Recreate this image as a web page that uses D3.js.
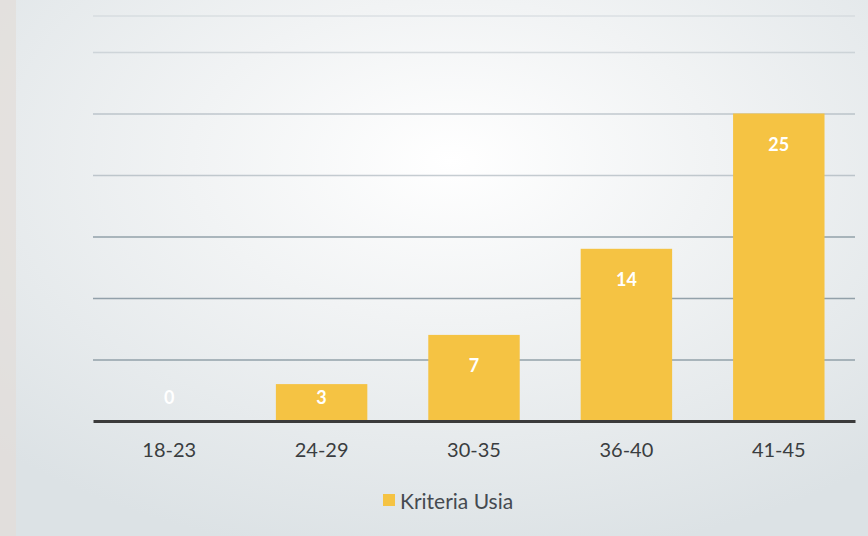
<!DOCTYPE html>
<html><head><meta charset="utf-8">
<script src="https://cdn.jsdelivr.net/npm/d3@7"></script>
<style>body{margin:0;overflow:hidden}svg{display:block}</style>
</head><body>
<script>
const categories = ["18-23", "24-29", "30-35", "36-40", "41-45"];
const values = [0, 3, 7, 14, 25];
const yTicks = [5, 10, 15, 20, 25, 30];
const seriesName = "Kriteria Usia";

const W = 868, H = 536;
const svg = d3.select("body").append("svg").attr("width", W).attr("height", H);
const defs = svg.append("defs");
const rg = defs.append("radialGradient").attr("id", "bg").attr("cx", "52%").attr("cy", "30%").attr("r", "75%");
rg.append("stop").attr("offset", "0%").attr("stop-color", "#ffffff");
rg.append("stop").attr("offset", "40%").attr("stop-color", "#f1f3f4");
rg.append("stop").attr("offset", "100%").attr("stop-color", "#dce2e5");
svg.append("rect").attr("width", W).attr("height", H).attr("fill", "url(#bg)");
// left darker strip of the photographed page
svg.append("rect").attr("x", 0).attr("y", 0).attr("width", 16).attr("height", H).attr("fill", "#e3ddd8").attr("opacity", 0.7);

const x = d3.scaleBand().domain(categories).range([93, 855]).paddingInner(0.4).paddingOuter(0.2);
const y = d3.scaleLinear().domain([0, 30]).range([421, 52]);

// faint top frame line
svg.append("line").attr("x1", 93).attr("x2", 855).attr("y1", 16).attr("y2", 16)
  .attr("stroke", "#c4ccd1").attr("stroke-width", 1).attr("opacity", 0.7);

// gridlines
const grid = d3.axisLeft(y).tickValues(yTicks).tickSize(-(855 - 93)).tickFormat("");
const gg = svg.append("g").attr("transform", "translate(93,0)").call(grid);
gg.select(".domain").remove();
gg.selectAll(".tick line").attr("stroke", "#8d9ca5").attr("stroke-width", 1.4)
  .attr("opacity", (d) => d >= 30 ? 0.3 : d >= 20 ? 0.5 : 0.95);

// bars
svg.selectAll("rect.bar").data(values).join("rect").attr("class", "bar")
  .attr("x", (d, i) => x(categories[i]))
  .attr("width", x.bandwidth())
  .attr("y", d => y(d))
  .attr("height", d => y(0) - y(d))
  .attr("fill", "#f5c343");

// baseline axis
const xAxis = d3.axisBottom(x).tickSize(0).tickPadding(22);
const xg = svg.append("g").attr("transform", `translate(0,${y(0)})`).call(xAxis);
xg.select(".domain").attr("stroke", "#3b3b3b").attr("stroke-width", 3);
xg.selectAll(".tick text").attr("font-family", "Lato, 'Open Sans', sans-serif")
  .attr("font-size", 20).attr("fill", "#3a3d40");

// value labels
svg.selectAll("text.val").data(values).join("text").attr("class", "val")
  .attr("x", (d, i) => x(categories[i]) + x.bandwidth() / 2)
  .attr("y", d => Math.min(y(d) + 30, y(0) - 24))
  .attr("text-anchor", "middle").attr("dominant-baseline", "central")
  .attr("font-family", "Lato, 'Open Sans', sans-serif").attr("font-size", 18)
  .attr("font-weight", "bold").attr("fill", "#ffffff").text(d => d);

// legend
const lg = svg.append("g").attr("transform", "translate(383,500)");
lg.append("rect").attr("x", 0).attr("y", -6).attr("width", 12).attr("height", 12).attr("fill", "#f5c343");
lg.append("text").attr("x", 17).attr("y", 0).attr("dominant-baseline", "central")
  .attr("font-family", "Lato, 'Open Sans', sans-serif").attr("font-size", 21)
  .attr("fill", "#454a50").text(seriesName);
</script>
</body></html>
